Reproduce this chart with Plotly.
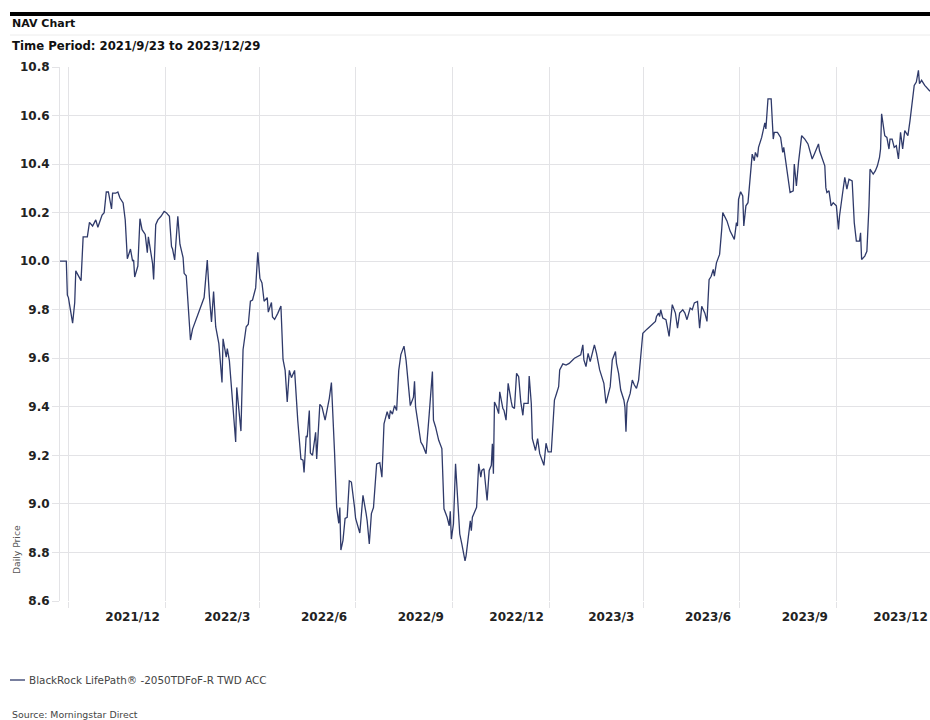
import plotly.graph_objects as go

dates = [
"2021-09-23","2021-09-29","2021-09-30","2021-10-01","2021-10-05","2021-10-07","2021-10-08","2021-10-13",
"2021-10-15","2021-10-19","2021-10-21","2021-10-24","2021-10-27","2021-10-29","2021-11-02","2021-11-04",
"2021-11-06","2021-11-08","2021-11-11","2021-11-12","2021-11-15","2021-11-17","2021-11-19","2021-11-22",
"2021-11-24","2021-11-26","2021-11-29","2021-12-01","2021-12-02","2021-12-03","2021-12-06","2021-12-08",
"2021-12-10","2021-12-13","2021-12-15","2021-12-16","2021-12-20","2021-12-21","2021-12-23","2021-12-25",
"2021-12-28","2021-12-31","2022-01-02","2022-01-05","2022-01-07","2022-01-08","2022-01-10","2022-01-13",
"2022-01-15","2022-01-18","2022-01-19","2022-01-21","2022-01-25","2022-01-27","2022-02-07","2022-02-10",
"2022-02-12","2022-02-14","2022-02-16","2022-02-18","2022-02-21","2022-02-24","2022-02-25","2022-02-28",
"2022-03-01","2022-03-03","2022-03-09","2022-03-10","2022-03-14","2022-03-16","2022-03-19","2022-03-21",
"2022-03-23","2022-03-25","2022-03-28","2022-03-30","2022-04-01","2022-04-03","2022-04-05","2022-04-08",
"2022-04-09","2022-04-12","2022-04-13","2022-04-15","2022-04-18","2022-04-21","2022-04-23","2022-04-25",
"2022-04-27","2022-04-29","2022-05-01","2022-05-04","2022-05-07","2022-05-10","2022-05-12","2022-05-13",
"2022-05-15","2022-05-16","2022-05-18","2022-05-19","2022-05-21","2022-05-24","2022-05-25","2022-05-28",
"2022-05-30","2022-06-02","2022-06-06","2022-06-08","2022-06-11","2022-06-13","2022-06-15","2022-06-16",
"2022-06-17","2022-06-19","2022-06-21","2022-06-23","2022-06-25","2022-06-27","2022-06-30","2022-07-01",
"2022-07-05","2022-07-08","2022-07-11","2022-07-12","2022-07-14","2022-07-16","2022-07-18","2022-07-21",
"2022-07-24","2022-07-26","2022-07-28","2022-07-31","2022-08-02","2022-08-03","2022-08-05","2022-08-07",
"2022-08-09","2022-08-11","2022-08-13","2022-08-16","2022-08-18","2022-08-20","2022-08-22","2022-08-25",
"2022-08-26","2022-08-27","2022-08-30","2022-09-01","2022-09-03","2022-09-06","2022-09-09","2022-09-12",
"2022-09-13","2022-09-15","2022-09-18","2022-09-21","2022-09-23","2022-09-26","2022-09-28","2022-09-29",
"2022-09-30","2022-10-02","2022-10-04","2022-10-06","2022-10-08","2022-10-10","2022-10-13","2022-10-14",
"2022-10-16","2022-10-18","2022-10-19","2022-10-20","2022-10-24","2022-10-26","2022-10-28","2022-10-29",
"2022-10-31","2022-11-03","2022-11-05","2022-11-07","2022-11-08","2022-11-09","2022-11-10","2022-11-12",
"2022-11-14","2022-11-15","2022-11-18","2022-11-19","2022-11-21","2022-11-23","2022-11-26","2022-11-27",
"2022-11-29","2022-12-01","2022-12-03","2022-12-05","2022-12-07","2022-12-08","2022-12-12","2022-12-13",
"2022-12-15","2022-12-16","2022-12-19","2022-12-21","2022-12-23","2022-12-25","2022-12-27","2022-12-29",
"2022-12-31","2023-01-03","2023-01-05","2023-01-06","2023-01-08","2023-01-10","2023-01-11","2023-01-14",
"2023-01-17","2023-01-20","2023-01-25","2023-01-31","2023-02-02","2023-02-03","2023-02-05","2023-02-07",
"2023-02-09","2023-02-10","2023-02-13","2023-02-15","2023-02-18","2023-02-22","2023-02-24","2023-02-28",
"2023-03-02","2023-03-05","2023-03-06","2023-03-08","2023-03-10","2023-03-13","2023-03-14","2023-03-15",
"2023-03-16","2023-03-19","2023-03-21","2023-03-23","2023-03-25","2023-03-27","2023-03-31","2023-04-04",
"2023-04-08","2023-04-12","2023-04-13","2023-04-15","2023-04-16","2023-04-17","2023-04-19","2023-04-22",
"2023-04-25","2023-04-28","2023-05-01","2023-05-03","2023-05-05","2023-05-08","2023-05-10","2023-05-12",
"2023-05-15","2023-05-17","2023-05-19","2023-05-22","2023-05-24","2023-05-26","2023-05-29","2023-05-31",
"2023-06-02","2023-06-04","2023-06-06","2023-06-07","2023-06-09","2023-06-12","2023-06-14","2023-06-15",
"2023-06-19","2023-06-22","2023-06-26","2023-06-28","2023-06-29","2023-06-30","2023-07-02","2023-07-04",
"2023-07-05","2023-07-07","2023-07-09","2023-07-11","2023-07-13","2023-07-15","2023-07-16","2023-07-18",
"2023-07-19","2023-07-22","2023-07-24","2023-07-25","2023-07-26","2023-07-28","2023-07-31","2023-08-02",
"2023-08-03","2023-08-06","2023-08-09","2023-08-11","2023-08-12","2023-08-14","2023-08-16","2023-08-18",
"2023-08-21","2023-08-22","2023-08-24","2023-08-26","2023-08-29","2023-09-01","2023-09-04","2023-09-06",
"2023-09-08","2023-09-10","2023-09-12","2023-09-14","2023-09-15","2023-09-18","2023-09-20","2023-09-21",
"2023-09-22","2023-09-24","2023-09-26","2023-09-28","2023-10-01","2023-10-03","2023-10-04","2023-10-07",
"2023-10-09","2023-10-11","2023-10-13","2023-10-16","2023-10-18","2023-10-20","2023-10-23","2023-10-24",
"2023-10-25","2023-10-28","2023-10-30","2023-11-01","2023-11-02","2023-11-05","2023-11-07","2023-11-09",
"2023-11-11","2023-11-12","2023-11-13","2023-11-16","2023-11-18","2023-11-20","2023-11-21","2023-11-23",
"2023-11-25","2023-11-27","2023-11-29","2023-12-01","2023-12-03","2023-12-05","2023-12-08","2023-12-10",
"2023-12-13","2023-12-14","2023-12-16","2023-12-18","2023-12-19","2023-12-21","2023-12-24","2023-12-29",
]

nav = [
10.00,10.00,9.86,9.85,9.745,9.83,9.96,9.92,
10.10,10.10,10.16,10.145,10.17,10.14,10.19,10.20,
10.285,10.285,10.215,10.28,10.28,10.285,10.26,10.24,
10.17,10.01,10.05,10.00,10.005,9.935,9.98,10.175,
10.13,10.11,10.035,10.10,9.99,9.925,10.15,10.17,
10.185,10.205,10.20,10.185,10.06,10.05,10.005,10.185,
10.07,10.015,9.95,9.94,9.675,9.72,9.85,10.005,
9.855,9.75,9.875,9.73,9.66,9.50,9.68,9.605,
9.64,9.59,9.255,9.48,9.30,9.635,9.73,9.74,
9.835,9.84,9.89,10.037,9.93,9.91,9.835,9.85,
9.79,9.83,9.77,9.76,9.785,9.815,9.595,9.55,
9.42,9.55,9.52,9.55,9.345,9.185,9.18,9.13,
9.28,9.275,9.385,9.21,9.20,9.295,9.185,9.41,
9.40,9.345,9.435,9.50,9.21,8.985,8.92,8.985,
8.81,8.85,8.94,8.945,9.095,9.09,8.985,8.94,
8.88,9.035,8.96,8.93,8.835,8.96,8.985,9.165,
9.17,9.11,9.33,9.38,9.35,9.385,9.37,9.405,
9.385,9.55,9.615,9.65,9.59,9.48,9.405,9.44,
9.505,9.40,9.317,9.255,9.24,9.207,9.372,9.545,
9.345,9.317,9.262,9.228,8.98,8.945,8.91,8.97,
8.855,8.917,9.165,9.014,8.876,8.834,8.765,8.786,
8.862,8.93,8.89,8.945,8.986,9.165,9.11,9.138,
9.145,9.014,9.138,9.159,9.248,9.124,9.42,9.40,
9.372,9.462,9.393,9.386,9.345,9.497,9.42,9.40,
9.393,9.538,9.524,9.42,9.365,9.414,9.414,9.527,
9.414,9.269,9.22,9.269,9.207,9.186,9.159,9.25,
9.214,9.214,9.331,9.428,9.455,9.483,9.552,9.577,
9.572,9.579,9.60,9.614,9.655,9.593,9.566,9.62,
9.586,9.607,9.655,9.62,9.552,9.497,9.414,9.483,
9.593,9.628,9.579,9.538,9.469,9.428,9.40,9.297,
9.414,9.455,9.51,9.49,9.476,9.51,9.703,9.72,
9.738,9.752,9.772,9.786,9.772,9.80,9.766,9.759,
9.69,9.821,9.786,9.724,9.786,9.80,9.786,9.759,
9.807,9.80,9.828,9.834,9.724,9.814,9.786,9.752,
9.924,9.938,9.966,9.938,9.993,10.028,10.131,10.20,
10.166,10.124,10.09,10.159,10.145,10.255,10.286,10.269,
10.145,10.228,10.241,10.338,10.441,10.414,10.448,10.428,
10.469,10.51,10.559,10.57,10.545,10.669,10.669,10.503,
10.531,10.531,10.51,10.448,10.469,10.407,10.345,10.283,
10.29,10.40,10.31,10.407,10.517,10.503,10.483,10.448,
10.421,10.441,10.462,10.483,10.455,10.421,10.393,10.303,
10.283,10.29,10.228,10.241,10.228,10.131,10.186,10.283,
10.345,10.297,10.338,10.331,10.159,10.083,10.083,10.117,
10.007,10.021,10.041,10.228,10.379,10.359,10.372,10.393,
10.428,10.462,10.607,10.517,10.51,10.462,10.503,10.503,
10.469,10.476,10.421,10.531,10.462,10.538,10.517,10.579,
10.697,10.724,10.738,10.786,10.731,10.745,10.724,10.70,
]

label_dates = ["2021-12-01","2022-03-01","2022-06-01","2022-09-01","2022-12-01",
               "2023-03-01","2023-06-01","2023-09-01","2023-12-01"]
label_text = ["2021/12","2022/3","2022/6","2022/9","2022/12",
              "2023/3","2023/6","2023/9","2023/12"]
grid_dates = ["2021-10-01","2022-01-01","2022-04-01","2022-07-01","2022-10-01",
              "2023-01-01","2023-04-01","2023-07-01","2023-10-01"]
y_ticks = [8.6, 8.8, 9.0, 9.2, 9.4, 9.6, 9.8, 10.0, 10.2, 10.4, 10.6, 10.8]

series_name = "BlackRock LifePath® -2050TDFoF-R TWD ACC"
title_text = "NAV Chart"
period_text = "Time Period: 2021/9/23 to 2023/12/29"
source_text = "Source: Morningstar Direct"

LINE = "#2f3a6a"
GRID = "#e3e3e6"
FONT = "DejaVu Sans"

fig = go.Figure()
fig.add_trace(go.Scatter(x=dates, y=nav, mode="lines", name=series_name,
                         line=dict(color=LINE, width=1.3), showlegend=False))

W, H = 930, 720
L, R, T, B = 60, 0, 67, 119
pw, ph = W - L - R, H - T - B

def px(xp):
    return (xp - L) / pw

def py(yp):
    return (H - B - yp) / ph

fig.update_layout(
    width=W, height=H,
    margin=dict(l=L, r=R, t=T, b=B),
    paper_bgcolor="white", plot_bgcolor="white",
    font=dict(family=FONT, color="#222222"),
    xaxis=dict(
        type="date",
        range=["2021-09-23", "2023-12-29"],
        tickmode="array", tickvals=label_dates, ticktext=label_text,
        showgrid=False, zeroline=False, showline=False,
        ticks="outside", ticklen=5, tickcolor="rgba(0,0,0,0)",
        tickfont=dict(family=FONT, size=12, color="#222222", weight="bold"),
        minor=dict(tickmode="array", tickvals=grid_dates, showgrid=True,
                   gridcolor=GRID, gridwidth=1, ticks="outside", ticklen=6,
                   tickcolor=GRID),
    ),
    yaxis=dict(
        range=[8.6, 10.8], tickmode="array", tickvals=y_ticks,
        ticktext=[f"{v:.1f}" for v in y_ticks],
        showgrid=True, gridcolor=GRID, gridwidth=1, zeroline=False,
        showline=True, linecolor=GRID, linewidth=1,
        ticks="outside", ticklen=7, tickcolor=GRID,
        tickfont=dict(family=FONT, size=12, color="#222222", weight="bold"),
    ),
)

shapes = [
    dict(type="line", xref="paper", yref="paper", x0=px(10), x1=px(930),
         y0=py(14), y1=py(14), line=dict(color="black", width=4)),
    dict(type="line", xref="paper", yref="paper", x0=px(10), x1=px(930),
         y0=py(35), y1=py(35), line=dict(color="#ececec", width=1)),
    dict(type="line", xref="paper", yref="paper", x0=px(10), x1=px(25),
         y0=py(680), y1=py(680), line=dict(color=LINE, width=1.3)),
]
fig.update_layout(shapes=shapes)

annotations = [
    dict(text=title_text, xref="paper", yref="paper", x=px(10), y=py(24),
         xanchor="left", yanchor="middle", showarrow=False,
         font=dict(family=FONT, size=11, color="#111111", weight="bold")),
    dict(text=period_text, xref="paper", yref="paper", x=px(10), y=py(46),
         xanchor="left", yanchor="middle", showarrow=False,
         font=dict(family=FONT, size=11.7, color="#111111", weight="bold")),
    dict(text=series_name, xref="paper", yref="paper", x=px(27), y=py(680),
         xanchor="left", yanchor="middle", showarrow=False,
         font=dict(family=FONT, size=10.4, color="#444444")),
    dict(text=source_text, xref="paper", yref="paper", x=px(10), y=py(714),
         xanchor="left", yanchor="middle", showarrow=False,
         font=dict(family=FONT, size=9.4, color="#444444")),
    dict(text="Daily Price", xref="paper", yref="paper", x=px(16), y=py(550),
         xanchor="center", yanchor="middle", showarrow=False, textangle=-90,
         font=dict(family=FONT, size=9.2, color="#555555")),
]
fig.update_layout(annotations=annotations)

fig.write_html("out.html", config={"displayModeBar": False},
               post_script="document.body.style.margin='0px';document.body.style.padding='0px';")
